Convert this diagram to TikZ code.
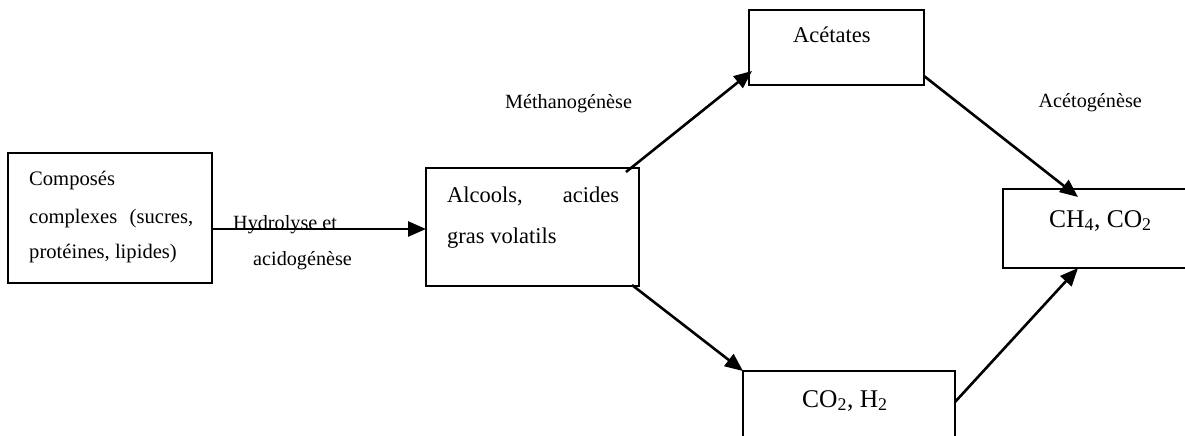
\documentclass[tikz,border=0pt]{standalone}
\usepackage{fontspec}
\setmainfont{Liberation Serif}
\usetikzlibrary{arrows.meta,calc}
\tikzset{
  box/.style={draw, line width=2pt, anchor=north west, inner sep=0pt, outer sep=0pt},
  conn/.style={line width=2.6pt, -{Triangle[length=18pt,width=15pt]}},
  lbl/.style={inner sep=0pt, font=\fontsize{20.2}{24}\selectfont},
  txa/.style={inner sep=0pt, font=\fontsize{20.6}{24}\selectfont},
  txb/.style={inner sep=0pt, font=\fontsize{22.5}{26}\selectfont},
  txc/.style={inner sep=0pt, font=\fontsize{25.5}{30}\selectfont}
}
\begin{document}
\begin{tikzpicture}[x=1pt,y=-1pt]
\useasboundingbox[fill=white] (0,0) rectangle (1185,436);
% boxes
\node[box, minimum width=204pt, minimum height=130pt] (b1) at (8,153) {};
\node[box, minimum width=213pt, minimum height=118pt] (alc) at (426,168) {};
\node[box, minimum width=175pt, minimum height=75pt] (acet) at (749,10) {};
\node[box, minimum width=220pt, minimum height=79pt] (ch4) at (1003,189) {};
\node[box, minimum width=212pt, minimum height=95pt] (co2) at (743,371) {};
% box texts
\node[txa, anchor=base west] (t1a) at (29,185) {Composés};
\node[txa, anchor=base west] (t1b) at (29,223) {\makebox[164pt][s]{complexes \ (sucres,}};
\node[txa, anchor=base west] (t1c) at (29,258) {protéines, lipides)};
\node[txb, anchor=base west] (t2a) at (447,202) {\makebox[172pt][s]{Alcools, \hfill acides}};
\node[txb, anchor=base west] (t2b) at (447,243) {gras volatils};
\node[txb, anchor=base west] (t3) at (793,43) {Acétates};
\node[txc, anchor=base west] (t4) at (1049,227) {CH\textsubscript{4}, CO\textsubscript{2}};
\node[txc, anchor=base west] (t5) at (802,407) {CO\textsubscript{2}, H\textsubscript{2}};
% connector end points
\coordinate (p1s) at ($(b1.north east)+(0,76)$);
\coordinate (p1e) at ($(alc.north west)+(0,61)$);
\coordinate (p2s) at ($(alc.north east)+(-13,4)$);
\coordinate (p2e) at ($(acet.south west)+(3,-14)$);
\coordinate (p3s) at ($(alc.south east)+(-7,-1)$);
\coordinate (p3e) at (co2.north west);
\coordinate (p4s) at ($(acet.south east)+(0,-9)$);
\coordinate (p4e) at ($(ch4.north west)+(75,8)$);
\coordinate (p5s) at ($(co2.north east)+(0,31)$);
\coordinate (p5e) at ($(ch4.south west)+(75,0)$);
% connectors
\draw[conn] (p1s) -- (p1e);
\draw[conn] (p2s) -- (p2e);
\draw[conn] (p3s) -- (p3e);
\draw[conn] (p4s) -- (p4e);
\draw[conn] (p5s) -- (p5e);
% labels
\node[lbl, anchor=base west] (l1) at (233,229) {Hydrolyse et};
\node[lbl, anchor=base west] (l2) at (253,265) {acidogénèse};
\node[lbl, anchor=base west] (l3) at (505,108) {Méthanogénèse};
\node[lbl, anchor=base east] (l4) at (1142,107) {Acétogénèse};
\end{tikzpicture}
\end{document}
